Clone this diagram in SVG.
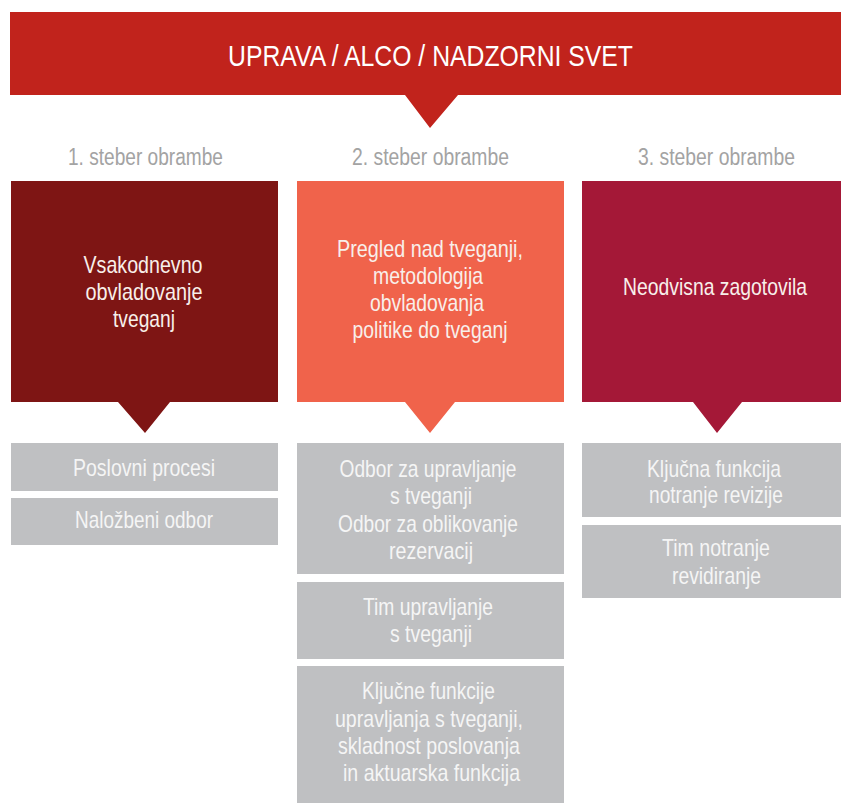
<svg xmlns="http://www.w3.org/2000/svg" width="841" height="803" viewBox="0 0 841 803">
<style>
  text { font-family: "Liberation Sans Narrow", "Liberation Sans", Arial, sans-serif; text-anchor: middle; }
  .title { font-size: 29px; fill: #ffffff; }
  .hdr { font-size: 23px; fill: #a3a3a3; }
  .lbl { font-size: 24px; fill: #f8efea; }
  .glbl { font-size: 24px; fill: #f5f5f5; }
  .gray { fill: #bfc0c2; }
</style>
<rect x="0" y="0" width="841" height="803" fill="#ffffff"/>

<g id="top">
  <path d="M10 12 H841 V95 H458 L430 128 L405 95 H10 Z" fill="#c1231c"/>
  <text class="title" x="430.5" y="66" textLength="405" lengthAdjust="spacingAndGlyphs">UPRAVA / ALCO / NADZORNI SVET</text>
</g>

<g id="headers">
  <text class="hdr" x="145.5" y="165" textLength="155" lengthAdjust="spacingAndGlyphs">1. steber obrambe</text>
  <text class="hdr" x="430.5" y="165" textLength="157" lengthAdjust="spacingAndGlyphs">2. steber obrambe</text>
  <text class="hdr" x="716.5" y="165" textLength="157" lengthAdjust="spacingAndGlyphs">3. steber obrambe</text>
</g>

<g id="pillar1">
  <path d="M11 181 H278 V402 H170 L145 433 L118 402 H11 Z" fill="#7e1514"/>
  <text class="lbl" x="143" y="273" textLength="119" lengthAdjust="spacingAndGlyphs">Vsakodnevno</text>
  <text class="lbl" x="144" y="300" textLength="117" lengthAdjust="spacingAndGlyphs">obvladovanje</text>
  <text class="lbl" x="144" y="327" textLength="62" lengthAdjust="spacingAndGlyphs">tveganj</text>
</g>

<g id="pillar2">
  <path d="M297 181 H564 V402 H455 L430 433 L405 402 H297 Z" fill="#f0634b"/>
  <text class="lbl" x="430" y="257" textLength="186" lengthAdjust="spacingAndGlyphs">Pregled nad tveganji,</text>
  <text class="lbl" x="428" y="284" textLength="110" lengthAdjust="spacingAndGlyphs">metodologija</text>
  <text class="lbl" x="427" y="311" textLength="114" lengthAdjust="spacingAndGlyphs">obvladovanja</text>
  <text class="lbl" x="430" y="338" textLength="155" lengthAdjust="spacingAndGlyphs">politike do tveganj</text>
</g>

<g id="pillar3">
  <path d="M582 181 H841 V402 H742 L717 433 L693 402 H582 Z" fill="#a41837"/>
  <text class="lbl" x="715" y="295" textLength="184" lengthAdjust="spacingAndGlyphs">Neodvisna zagotovila</text>
</g>

<g id="p1-poslovni">
  <rect class="gray" x="11" y="443" width="267" height="48"/>
  <text class="glbl" x="144" y="476" textLength="142" lengthAdjust="spacingAndGlyphs">Poslovni procesi</text>
</g>
<g id="p1-nalozbeni">
  <rect class="gray" x="11" y="498" width="267" height="47"/>
  <text class="glbl" x="144" y="528" textLength="138" lengthAdjust="spacingAndGlyphs">Naložbeni odbor</text>
</g>

<g id="p2-odbor">
  <rect class="gray" x="297" y="443" width="267" height="131"/>
  <text class="glbl" x="428" y="477" textLength="177" lengthAdjust="spacingAndGlyphs">Odbor za upravljanje</text>
  <text class="glbl" x="431" y="504" textLength="82" lengthAdjust="spacingAndGlyphs">s tveganji</text>
  <text class="glbl" x="428" y="532" textLength="180" lengthAdjust="spacingAndGlyphs">Odbor za oblikovanje</text>
  <text class="glbl" x="431" y="559" textLength="84" lengthAdjust="spacingAndGlyphs">rezervacij</text>
</g>
<g id="p2-tim">
  <rect class="gray" x="297" y="582" width="267" height="77"/>
  <text class="glbl" x="428" y="615" textLength="130" lengthAdjust="spacingAndGlyphs">Tim upravljanje</text>
  <text class="glbl" x="431" y="642" textLength="82" lengthAdjust="spacingAndGlyphs">s tveganji</text>
</g>
<g id="p2-kljucne">
  <rect class="gray" x="297" y="666" width="267" height="137"/>
  <text class="glbl" x="428.5" y="699" textLength="133" lengthAdjust="spacingAndGlyphs">Ključne funkcije</text>
  <text class="glbl" x="429" y="727" textLength="188" lengthAdjust="spacingAndGlyphs">upravljanja s tveganji,</text>
  <text class="glbl" x="429" y="754" textLength="182" lengthAdjust="spacingAndGlyphs">skladnost poslovanja</text>
  <text class="glbl" x="431.5" y="781" textLength="177" lengthAdjust="spacingAndGlyphs">in aktuarska funkcija</text>
</g>

<g id="p3-kljucna">
  <rect class="gray" x="582" y="443" width="259" height="74"/>
  <text class="glbl" x="714" y="477" textLength="134" lengthAdjust="spacingAndGlyphs">Ključna funkcija</text>
  <text class="glbl" x="716" y="503" textLength="134" lengthAdjust="spacingAndGlyphs">notranje revizije</text>
</g>
<g id="p3-tim">
  <rect class="gray" x="582" y="525" width="259" height="73"/>
  <text class="glbl" x="716" y="556" textLength="108" lengthAdjust="spacingAndGlyphs">Tim notranje</text>
  <text class="glbl" x="716.5" y="584" textLength="89" lengthAdjust="spacingAndGlyphs">revidiranje</text>
</g>

<g id="connectors"></g>
</svg>
